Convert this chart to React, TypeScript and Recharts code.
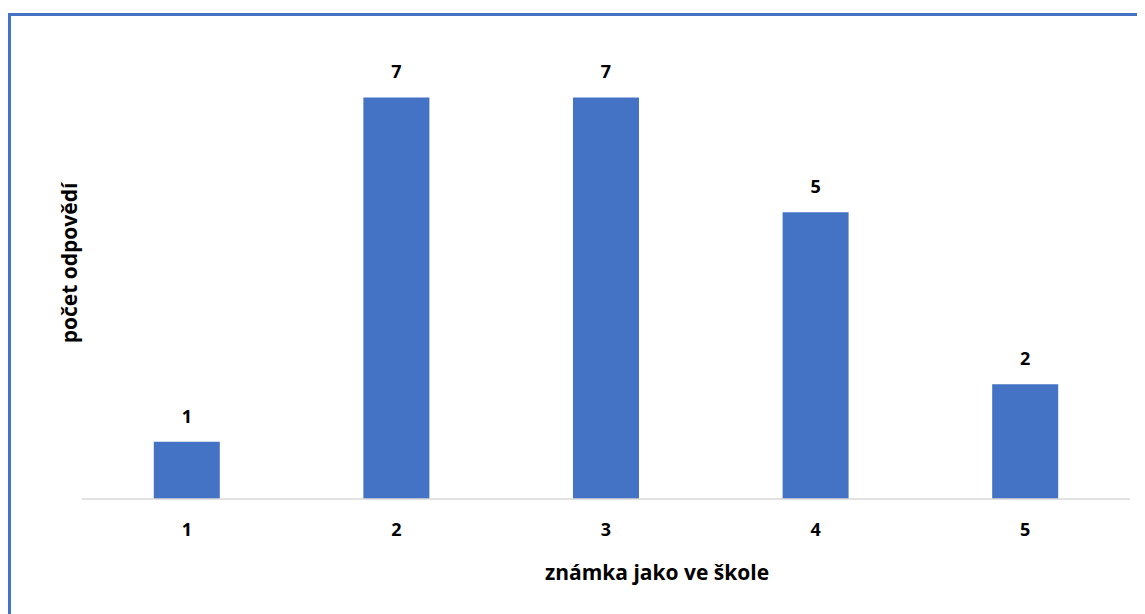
import { BarChart, Bar, XAxis, YAxis, LabelList } from "recharts";

const grades = ["1", "2", "3", "4", "5"];
const counts = [1, 7, 7, 5, 2];
const yTicks = [0, 8];

const data = grades.map((g, i) => ({ grade: g, count: counts[i] }));

const FONT = "'Open Sans', 'DejaVu Sans', sans-serif";

const GradeTick = (props: any) => {
  const { x, y, payload } = props;
  return (
    <text
      x={x}
      y={y + 29}
      textAnchor="middle"
      fontFamily={FONT}
      fontWeight={700}
      fontSize={18}
      fill="#000"
    >
      {payload.value}
    </text>
  );
};

const TopLabel = (props: any) => {
  const { x, y, width, value } = props;
  return (
    <text
      x={x + width / 2}
      y={y - 19}
      textAnchor="middle"
      fontFamily={FONT}
      fontWeight={700}
      fontSize={18}
      fill="#000"
    >
      {value}
    </text>
  );
};

export default function App() {
  return (
    <div style={{ position: "relative", width: 1137, height: 606, fontFamily: FONT }}>
      <div
        style={{
          position: "absolute",
          left: 0,
          top: 5,
          width: 1137,
          height: 601,
          borderTop: "3px solid #4472C4",
          borderLeft: "3px solid #4472C4",
          boxSizing: "border-box",
        }}
      />
      <BarChart
        width={1137}
        height={606}
        data={data}
        margin={{ top: 32, right: 15, left: 74, bottom: 85 }}
        barCategoryGap="34.25%"
        style={{ position: "absolute", left: 0, top: 0 }}
      >
        <XAxis
          dataKey="grade"
          height={30}
          axisLine={{ stroke: "#d9d9d9", strokeWidth: 1.5 }}
          tickLine={false}
          tick={<GradeTick />}
        />
        <YAxis hide domain={[0, 8]} ticks={yTicks} />
        <Bar dataKey="count" fill="#4472C4" isAnimationActive={false}>
          <LabelList dataKey="count" content={<TopLabel />} />
        </Bar>
      </BarChart>
      <div
        style={{
          position: "absolute",
          left: 649 - 300,
          width: 600,
          top: 550,
          textAlign: "center",
          fontWeight: 700,
          fontSize: 21,
          color: "#000",
        }}
      >
        známka jako ve škole
      </div>
      <div
        style={{
          position: "absolute",
          left: 61 - 150,
          top: 255 - 15,
          width: 300,
          height: 30,
          lineHeight: "30px",
          textAlign: "center",
          fontWeight: 700,
          fontSize: 21,
          color: "#000",
          transform: "rotate(-90deg)",
        }}
      >
        počet odpovědí
      </div>
    </div>
  );
}
